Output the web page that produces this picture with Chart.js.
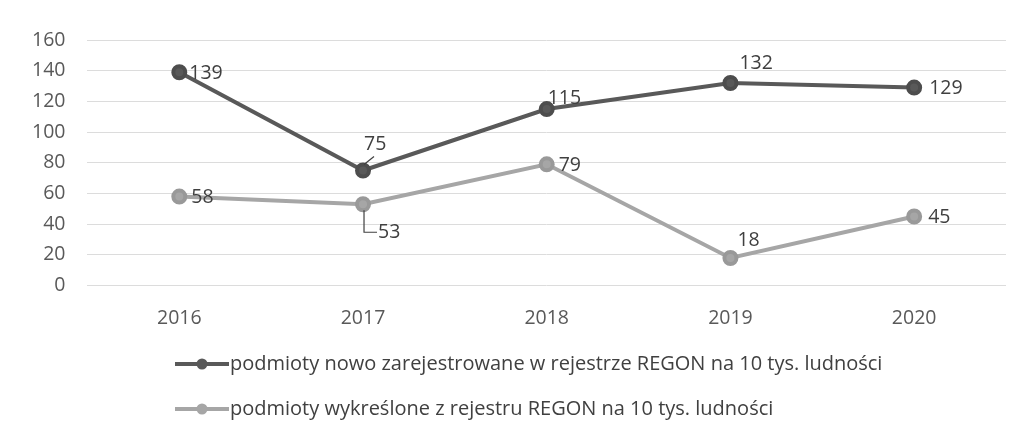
<!DOCTYPE html>
<html><head><meta charset="utf-8">
<script src="https://cdn.jsdelivr.net/npm/chart.js@4"></script>
<style>html,body{margin:0;padding:0;background:#fff;}#w{width:1019px;height:432px;}</style>
</head><body><div id="w"><canvas id="c" width="1019" height="432"></canvas></div>
<script>
const years = ['2016','2017','2018','2019','2020'];
const registered = [139, 75, 115, 132, 129];
const removed = [58, 53, 79, 18, 45];
const seriesNames = [
  'podmioty nowo zarejestrowane w rejestrze REGON na 10 tys. ludności',
  'podmioty wykreślone z rejestru REGON na 10 tys. ludności'
];
const yTicks = [0, 20, 40, 60, 80, 100, 120, 140, 160];

// label placement (dx, dy from point, text alignment, leader)
const labelPlace = [
  [{dx:10,dy:1,al:'left'},{dx:1,dy:-26,al:'left',lead:'diag'},{dx:1,dy:-11,al:'left'},{dx:9,dy:-20,al:'left'},{dx:15,dy:1,al:'left'}],
  [{dx:12,dy:1,al:'left'},{dx:15,dy:28,al:'left',lead:'elbow'},{dx:12,dy:1,al:'left'},{dx:7,dy:-18,al:'left'},{dx:14,dy:1,al:'left'}]
];
const FONT = '"Open Sans", "Liberation Sans", sans-serif';
const FS = 19.5;

const labelsPlugin = {
  id:'lbls',
  afterDatasetsDraw(chart){
    const ctx = chart.ctx;
    ctx.save();
    ctx.font = FS + 'px ' + FONT;
    ctx.fillStyle = '#404040';
    ctx.textBaseline = 'middle';
    chart.data.datasets.forEach((ds, di) => {
      const meta = chart.getDatasetMeta(di);
      meta.data.forEach((pt, i) => {
        const p = labelPlace[di][i];
        const x = pt.x + p.dx, y = pt.y + p.dy;
        ctx.textAlign = p.al;
        ctx.fillText(String(ds.data[i]), x, y);
        if (p.lead === 'diag') {
          ctx.strokeStyle = '#404040'; ctx.lineWidth = 1.2;
          ctx.beginPath(); ctx.moveTo(pt.x + 1, pt.y - 6); ctx.lineTo(pt.x + 11, y + 12); ctx.stroke();
        } else if (p.lead === 'elbow') {
          ctx.strokeStyle = '#404040'; ctx.lineWidth = 1.2;
          ctx.beginPath(); ctx.moveTo(pt.x + 1, pt.y + 6); ctx.lineTo(pt.x + 1, y); ctx.lineTo(x - 1, y); ctx.stroke();
        }
      });
    });
    ctx.restore();
  }
};

const legendPlugin = {
  id:'leg',
  afterDraw(chart){
    const ctx = chart.ctx;
    ctx.save();
    ctx.font = '20px ' + FONT;
    ctx.textBaseline = 'middle';
    ctx.textAlign = 'left';
    const x0 = 175, ys = [364, 409];
    chart.data.datasets.forEach((ds, di) => {
      const y = ys[di];
      ctx.strokeStyle = ds.borderColor; ctx.lineWidth = 4;
      ctx.beginPath(); ctx.moveTo(x0, y); ctx.lineTo(x0 + 54, y); ctx.stroke();
      ctx.fillStyle = ds.pointBackgroundColor;
      ctx.beginPath(); ctx.arc(x0 + 27, y, 5.5, 0, Math.PI*2); ctx.fill();
      ctx.fillStyle = '#404040';
      ctx.fillText(ds.label, x0 + 55, y);
    });
    ctx.restore();
  }
};

new Chart(document.getElementById('c'), {
  type:'line',
  data:{
    labels: years,
    datasets:[
      {label: seriesNames[0], data: registered, borderColor:'#595959', backgroundColor:'#595959',
       pointBackgroundColor:'#595959', pointBorderColor:'#4d4d4d', borderWidth:4, pointRadius:6, tension:0},
      {label: seriesNames[1], data: removed, borderColor:'#a6a6a6', backgroundColor:'#a6a6a6',
       pointBackgroundColor:'#a6a6a6', pointBorderColor:'#999999', borderWidth:4, pointRadius:6, tension:0}
    ]
  },
  options:{
    responsive:false, animation:false,
    layout:{padding:{left:10, right:13, top:40, bottom:89}},
    plugins:{legend:{display:false}, tooltip:{enabled:false}},
    scales:{
      x:{offset:true, grid:{display:false}, border:{display:false},
         ticks:{color:'#595959', font:{family:FONT, size:FS}, padding:13}},
      y:{min:0, max:160, afterBuildTicks(ax){ ax.ticks = yTicks.map(v=>({value:v})); },
         grid:{color:'#dcdcdc', lineWidth:1, drawTicks:false}, border:{display:false},
         ticks:{color:'#595959', font:{family:FONT, size:FS}, padding:22}}
    }
  },
  plugins:[labelsPlugin, legendPlugin]
});
</script></body></html>
